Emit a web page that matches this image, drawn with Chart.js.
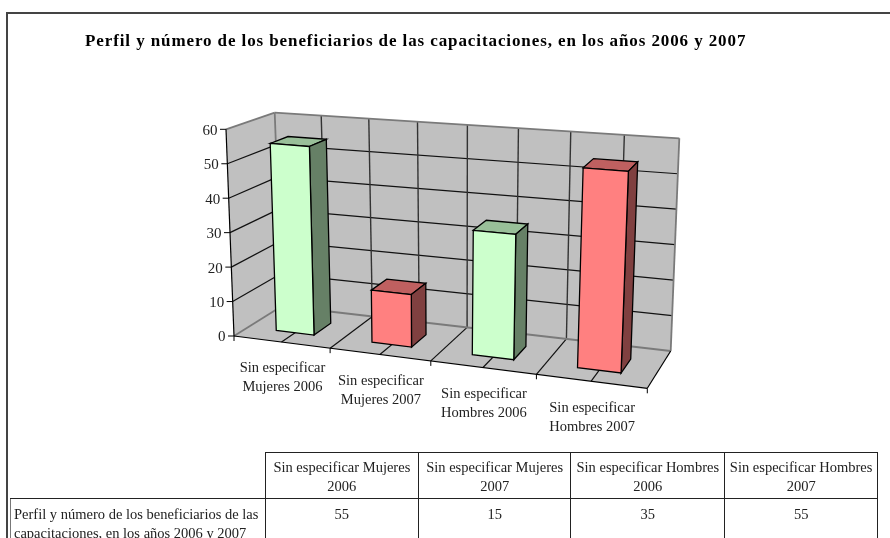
<!DOCTYPE html>
<html>
<head>
<meta charset="utf-8">
<script src="https://cdn.jsdelivr.net/npm/chart.js@4"></script>
<style>
    html, body { margin: 0; padding: 0; background: #fff; overflow: hidden; }
    #wrap { position: relative; width: 890px; height: 538px; overflow: hidden; }
    #frame { position: absolute; left: 6px; top: 12px; width: 900px; height: 600px; border: 2px solid #444; box-sizing: border-box; }
    canvas { position: absolute; left: 0; top: 0; }
    #dataTable { position: absolute; left: 10px; top: 452px; border-collapse: collapse; table-layout: fixed; width: 867px;
        font-family: "Liberation Serif", serif; font-size: 14.5px; line-height: 18.7px; color: #222; }
    #dataTable td { border: 1px solid #222; padding: 5px 3px 3px; text-align: center; vertical-align: top; }
    #dataTable tr + tr td { padding-top: 6px; }
    #dataTable td.corner { border-top: none; border-left: none; }
    #dataTable td.rowHead { text-align: left; border-left-color: #777; }
</style>
</head>
<body>
<div id="wrap">
    <div id="frame"></div>
    <canvas id="chart" width="890" height="538"></canvas>
    <table id="dataTable"></table>
</div>
<script>
const chartTitle = "Perfil y número de los beneficiarios de las capacitaciones, en los años 2006 y 2007";
const categories = [
    ["Sin especificar", "Mujeres 2006"],
    ["Sin especificar", "Mujeres 2007"],
    ["Sin especificar", "Hombres 2006"],
    ["Sin especificar", "Hombres 2007"]
];
const values = [55, 15, 35, 55];
const barColors = ["#CCFFCC", "#FF8080", "#CCFFCC", "#FF8080"];
const yMax = 60;
const yStep = 10;

// screen corners of the 3d box, f = front, b = back, l/r, bottom/top
const box = {
    flb: [234, 336], frb: [647.3, 388.3], blb: [282, 306], brb: [670.7, 351],
    flt: [226, 129.3], frt: [657, 163], blt: [274.7, 112.7], brt: [679.3, 138.3]
};
const warpK = 1.1; // categories get wider toward the right
const barDepth = [0.3, 0.68];
const FONT = '"Liberation Serif", serif';

function mix(a, b, t) { return [a[0] + (b[0] - a[0]) * t, a[1] + (b[1] - a[1]) * t]; }

// u along categories, v up the value axis, d into the picture (all 0..1)
function project(u, v, d) {
    var s = u / (u + (1 - u) * warpK);
    var bottom = mix(mix(box.flb, box.frb, s), mix(box.blb, box.brb, s), d);
    var top = mix(mix(box.flt, box.frt, s), mix(box.blt, box.brt, s), d);
    return mix(bottom, top, v);
}

function poly(ctx, pts, fill, stroke, width) {
    ctx.beginPath();
    pts.forEach((p, i) => { i ? ctx.lineTo(p[0], p[1]) : ctx.moveTo(p[0], p[1]); });
    ctx.closePath();
    if (fill) { ctx.fillStyle = fill; ctx.fill(); }
    if (stroke) { ctx.strokeStyle = stroke; ctx.lineWidth = width || 1; ctx.stroke(); }
}

function line(ctx, a, b, color, width) {
    ctx.beginPath();
    ctx.moveTo(a[0], a[1]);
    ctx.lineTo(b[0], b[1]);
    ctx.strokeStyle = color;
    ctx.lineWidth = width || 1;
    ctx.stroke();
}

function shade(hex, f) {
    var n = parseInt(hex.slice(1), 16);
    var r = Math.round((n >> 16 & 255) * f), g = Math.round((n >> 8 & 255) * f), b = Math.round((n & 255) * f);
    return "rgb(" + r + "," + g + "," + b + ")";
}

const box3d = {
    id: "box3d",
    beforeDatasetsDraw(chart) {
        const ctx = chart.ctx;
        const area = chart.chartArea;
        const yScale = chart.scales.y;
        const vOf = (val) => (area.bottom - yScale.getPixelForValue(val)) / (area.bottom - area.top);
        const uOf = (px) => (px - area.left) / (area.right - area.left);
        const gray = "#7a7a7a";
        ctx.save();

        // title
        ctx.font = "bold 17px " + FONT;
        ctx.letterSpacing = "0.9px";
        ctx.fillStyle = "#000";
        ctx.textAlign = "left";
        ctx.textBaseline = "middle";
        ctx.fillText(chartTitle, 85, 42);
        ctx.letterSpacing = "0px";

        // walls and floor
        poly(ctx, [project(0, 0, 0), project(0, 1, 0), project(0, 1, 1), project(0, 0, 1)], "#C0C0C0");
        poly(ctx, [project(0, 0, 1), project(0, 1, 1), project(1, 1, 1), project(1, 0, 1)], "#C0C0C0");
        poly(ctx, [project(0, 0, 0), project(0, 0, 1), project(1, 0, 1), project(1, 0, 0)], "#C0C0C0");

        // grid
        yScale.ticks.forEach((t) => {
            if (t.value === 0 || t.value === yMax) return;
            var v = vOf(t.value);
            line(ctx, project(0, v, 0), project(0, v, 1), "#111", 1.2);
            line(ctx, project(0, v, 1), project(1, v, 1), "#111", 1.2);
        });
        for (var k = 1; k < 8; k++) {
            line(ctx, project(k / 8, 0, 1), project(k / 8, 1, 1), "#333", 1.4);
            line(ctx, project(k / 8, 0, 0), project(k / 8, 0, 1), "#111", 1.2);
        }

        // wall edges
        line(ctx, project(0, 1, 0), project(0, 1, 1), gray, 1.8);
        line(ctx, project(0, 1, 1), project(1, 1, 1), gray, 1.8);
        line(ctx, project(1, 1, 1), project(1, 0, 1), gray, 1.8);
        line(ctx, project(0, 0, 1), project(0, 1, 1), gray, 1.8);
        line(ctx, project(0, 0, 0), project(0, 0, 1), gray, 1.8);
        line(ctx, project(0, 0, 1), project(1, 0, 1), gray, 1.8);

        // axes and ticks
        line(ctx, project(0, 0, 0), project(0, 1, 0), "#000", 1.2);
        line(ctx, project(0, 0, 0), project(1, 0, 0), "#000", 1.2);
        line(ctx, project(1, 0, 0), project(1, 0, 1), "#000", 1.2);
        ctx.font = "15px " + FONT;
        ctx.fillStyle = "#222";
        ctx.textAlign = "right";
        yScale.ticks.forEach((t) => {
            var p = project(0, vOf(t.value), 0);
            line(ctx, [p[0] - 6, p[1]], p, "#000");
            ctx.fillText(t.label, p[0] - 8.5, p[1] + 1.5);
        });
        for (var c = 0; c <= categories.length; c++) {
            var q = project(c / categories.length, 0, 0);
            line(ctx, q, [q[0], q[1] + 5], "#000");
        }

        // category labels
        ctx.font = "14.5px " + FONT;
        ctx.textAlign = "center";
        categories.forEach((lab, i) => {
            var p = project((i + 0.5) / categories.length, 0, 0);
            ctx.fillText(lab[0], p[0] + 1, p[1] + 26.5);
            ctx.fillText(lab[1], p[0] + 1, p[1] + 45.5);
        });

        // bars, left to right
        chart.getDatasetMeta(0).data.forEach((el) => {
            var u0 = uOf(el.x - el.width / 2), u1 = uOf(el.x + el.width / 2);
            var v = vOf(values[el.$context.dataIndex]);
            var d0 = barDepth[0], d1 = barDepth[1];
            var col = el.options.backgroundColor;
            poly(ctx, [project(u0, v, d0), project(u1, v, d0), project(u1, v, d1), project(u0, v, d1)], shade(col, 0.75), "#000", 1.3);
            poly(ctx, [project(u1, 0, d0), project(u1, v, d0), project(u1, v, d1), project(u1, 0, d1)], shade(col, 0.5), "#000", 1.3);
            poly(ctx, [project(u0, 0, d0), project(u0, v, d0), project(u1, v, d0), project(u1, 0, d0)], col, "#000", 1.3);
        });
        ctx.restore();
        return false; // flat bars stay undrawn
    }
};

new Chart(document.getElementById("chart"), {
    type: "bar",
    data: {
        labels: categories,
        datasets: [{
            data: values,
            backgroundColor: barColors,
            categoryPercentage: 1,
            barPercentage: 0.4
        }]
    },
    options: {
        responsive: false,
        animation: false,
        layout: { padding: { left: 226, top: 130, right: 210, bottom: 202 } },
        plugins: { legend: { display: false }, tooltip: { enabled: false } },
        scales: {
            x: { display: false },
            y: { display: false, min: 0, max: yMax, ticks: { stepSize: yStep } }
        }
    },
    plugins: [box3d]
});

// data table under the chart
var table = document.getElementById("dataTable");
var widths = [254.7, 153.3, 152.3, 154, 152.7];
var html = "<colgroup>" + widths.map((w) => '<col style="width:' + w + 'px">').join("") + "</colgroup>";
html += '<tr><td class="corner"></td>' + categories.map((c) => "<td>" + c.join(" ") + "</td>").join("") + "</tr>";
html += '<tr><td class="rowHead">' + chartTitle + "</td>" + values.map((v) => "<td>" + v + "</td>").join("") + "</tr>";
table.innerHTML = html;
</script>
</body>
</html>
